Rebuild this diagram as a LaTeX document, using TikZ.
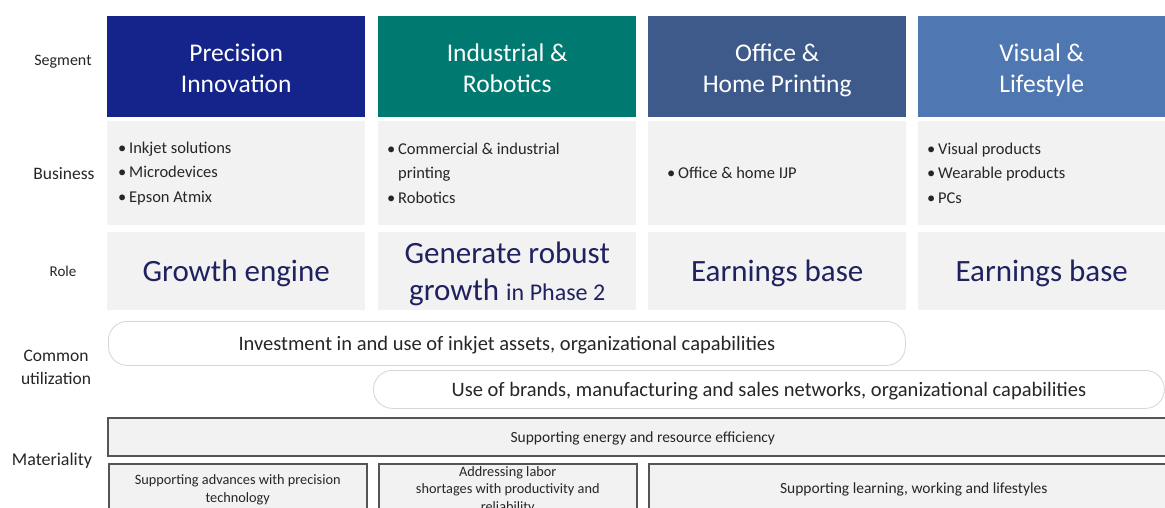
\documentclass[tikz,border=0pt]{standalone}
\usepackage{fontspec}
\setmainfont{Carlito}
\usetikzlibrary{positioning}
\definecolor{navy}{RGB}{20,36,138}
\definecolor{jade}{RGB}{0,122,112}
\definecolor{slate}{RGB}{61,90,138}
\definecolor{cobalt}{RGB}{79,119,177}
\definecolor{cellgrey}{RGB}{242,242,242}
\definecolor{pillgrey}{RGB}{214,214,214}
\definecolor{boxgrey}{RGB}{85,85,85}
\definecolor{ink}{RGB}{38,38,38}
\definecolor{rolenavy}{RGB}{32,34,96}

\begin{document}
\begin{tikzpicture}[x=1pt,y=-1pt,
  rowlabel/.style={text=ink,align=center,inner sep=0pt},
  cell/.style={fill=cellgrey,anchor=north west,inner sep=0pt},
  pill/.style={draw=pillgrey,fill=white,rounded corners=19pt,line width=0.8pt,anchor=north west,inner sep=0pt,
    font=\fontsize{20.5}{24}\selectfont,text=ink,text height=19pt,text depth=4pt},
  matbox/.style={draw=boxgrey,fill=cellgrey,line width=1.5pt,anchor=north west,inner sep=0pt,align=center,
    font=\fontsize{15.5}{18}\selectfont,text=ink},
  matsmall/.style={matbox,font=\fontsize{14.3}{17.5}\selectfont}]
    \useasboundingbox (0,0) rectangle (1165,508);
    \clip (0,0) rectangle (1165,508);
    \fill[white] (0,0) rectangle (1165,508);
    \foreach \ta/\tb/\c/\x/\w/\dx/\biz/\role [count=\i] in {
      Precision/Innovation/navy/107/258/11/{\textbullet\,Inkjet solutions\\\textbullet\,Microdevices\\\textbullet\,Epson Atmix}/Growth engine,
      Industrial \&/Robotics/jade/378/258/9/{\textbullet\,Commercial \& industrial\\\phantom{\textbullet\,}printing\\\textbullet\,Robotics}/{Generate robust\\growth {\fontsize{24}{37}\selectfont in Phase 2}},
      Office \&/Home Printing/slate/648/258/19/{\textbullet\,Office \& home IJP}/Earnings base,
      Visual \&/Lifestyle/cobalt/918/247/9/{\textbullet\,Visual products\\\textbullet\,Wearable products\\\textbullet\,PCs}/Earnings base}
    {
      \node[fill=\c,minimum width=\w pt,minimum height=101pt,anchor=north west,inner sep=0pt] (s\i) at (\x,16) {};
      \node[text=white,font=\fontsize{25.5}{31}\selectfont,align=center,inner sep=0pt] (st\i) at ([yshift=-4.5pt]s\i.center) {\strut\ta\\\tb\strut};
      \node[cell,minimum width=\w pt,minimum height=104pt] (b\i) at (\x,121) {};
      \node[anchor=west,align=left,inner sep=0pt,font=\fontsize{16.5}{24.5}\selectfont,text=ink] (bt\i) at ([xshift=\dx pt]b\i.west) {\biz};
      \node[cell,minimum width=\w pt,minimum height=78pt] (r\i) at (\x,232) {};
      \node[text=rolenavy,font=\fontsize{31}{37}\selectfont,align=center,inner sep=0pt] (rt\i) at ([yshift=-2.5pt]r\i.center) {\role};
    }
    \node[rowlabel,font=\fontsize{16}{18}\selectfont] (lseg) at (63,62) {Segment};
    \node[rowlabel,font=\fontsize{17.5}{21}\selectfont] (lbiz) at (64,174) {Business};
    \node[rowlabel,font=\fontsize{15}{18}\selectfont] (lrole) at (63,271) {Role};
    \node[rowlabel,font=\fontsize{17.5}{23}\selectfont] (lcom) at (56,367) {Common\\utilization};
    \node[rowlabel,font=\fontsize{18}{22}\selectfont] (lmat) at (52,461) {Materiality};
    \node[pill,minimum width=797pt,minimum height=44pt] (p1) at (108,321) {Investment in and use of inkjet assets, organizational capabilities};
    \node[pill,minimum width=791pt,minimum height=38pt] (p2) at (373,370) {Use of brands, manufacturing and sales networks, organizational capabilities};
    \node[matbox,minimum width=1070pt,minimum height=38pt,text height=15pt,text depth=3pt] (m0) at (107,417) {Supporting energy and resource efficiency};
    \node[matsmall,minimum width=258pt,minimum height=52pt] (m1) at (108,463) {Supporting advances with precision\\technology};
    \node[matsmall,minimum width=258pt,minimum height=52pt] (m2) at (378,463) {Addressing labor\\shortages with productivity and\\reliability};
    \node[matbox,minimum width=530pt,minimum height=52pt] (m3) at (648,463) {Supporting learning, working and lifestyles};
  \end{tikzpicture}
\end{document}
